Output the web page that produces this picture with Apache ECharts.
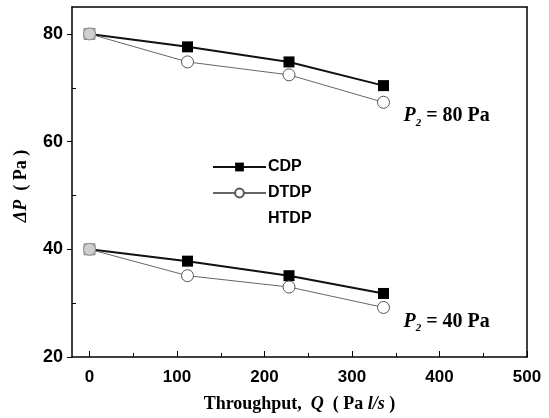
<!DOCTYPE html>
<html lang="en">
<head>
    <meta charset="UTF-8"/>
    <script src="https://cdn.jsdelivr.net/npm/echarts@6/dist/echarts.min.js"></script>
</head>
<body style="margin:0;background:#fff">
<div id="main" style="width: 549px;height:418px;"></div>
<script type="text/javascript">
    // throughput Q (Pa l/s)
    var throughput = [0, 112, 228, 336];
    // P2 = 80 Pa
    var cdp80 = [80, 77.6, 74.8, 70.4];
    var dtdp80 = [80, 74.8, 72.4, 67.3];
    // P2 = 40 Pa
    var cdp40 = [40, 37.8, 35.1, 31.8];
    var dtdp40 = [40, 35.1, 33.0, 29.2];
    var xTicks = [0, 100, 200, 300, 400, 500];
    var yTicks = [20, 40, 60, 80];
    var yMinor = [30, 50, 70];
    var xMinor = [50, 150, 250, 350, 450];

    function pairs(ys) {
        return ys.map(function (y, i) {
            var p = {value: [throughput[i], y]};
            if (i === 0) p.itemStyle = {color: '#cfcfcf', borderColor: '#888'};
            return p;
        });
    }

    var myChart = echarts.init(document.getElementById('main'));
    var sans = 'Liberation Sans';
    var serif = 'Liberation Serif';

    var squareStyle = {
        type: 'line', symbol: 'rect', symbolSize: 11,
        itemStyle: {color: '#000'},
        lineStyle: {color: '#111', width: 2},
        z: 3
    };
    var circleStyle = {
        type: 'line', symbol: 'circle', symbolSize: 12,
        itemStyle: {color: '#fff', borderColor: '#555', borderWidth: 1},
        lineStyle: {color: '#666', width: 1},
        z: 4
    };

    var options = {
        animation: false,
        grid: {left: 72, right: 22, top: 7, bottom: 59},
        legend: {
            left: 207, top: 154, orient: 'vertical',
            itemWidth: 53, itemHeight: 11, itemGap: 10,
            textStyle: {fontFamily: sans, fontWeight: 'bold', fontSize: 16, color: '#000', padding: [0, 0, 0, -3]},
            data: ['CDP', 'DTDP', {name: 'HTDP', itemStyle: {opacity: 0}, lineStyle: {opacity: 0}}]
        },
        xAxis: [{
            type: 'value', min: -20, max: 500, interval: 100,
            name: '{t|Throughput,  }{i|Q}{t|  ( Pa }{i|l/s}{t| )}',
            nameLocation: 'middle', nameGap: 38,
            nameTextStyle: {
                rich: {
                    t: {fontFamily: serif, fontWeight: 'bold', fontSize: 18, color: '#000'},
                    i: {fontFamily: serif, fontWeight: 'bold', fontStyle: 'italic', fontSize: 18, color: '#000'}
                }
            },
            axisLine: {onZero: false, lineStyle: {color: '#000', width: 1.5}},
            axisTick: {inside: true, length: 6, lineStyle: {color: '#000'}, customValues: xTicks},
            axisLabel: {customValues: xTicks, margin: 12, fontFamily: sans, fontWeight: 'bold', fontSize: 17, color: '#000'},
            splitLine: {show: false}
        }, {
            type: 'value', min: -20, max: 500, position: 'bottom',
            axisLine: {show: false, onZero: false},
            axisTick: {inside: true, length: 4, lineStyle: {color: '#000'}, customValues: xMinor},
            axisLabel: {show: false}, splitLine: {show: false}
        }, {
            type: 'value', min: -20, max: 500, position: 'top',
            axisLine: {onZero: false, lineStyle: {color: '#000', width: 1.5}},
            axisTick: {show: false}, axisLabel: {show: false}, splitLine: {show: false}
        }],
        yAxis: [{
            type: 'value', min: 20, max: 85, interval: 20,
            name: '{i|ΔP}{t|  ( Pa )}',
            nameLocation: 'middle', nameGap: 42, nameRotate: 90,
            nameTextStyle: {
                padding: [0, 0, 0, -8],
                rich: {
                    t: {fontFamily: serif, fontWeight: 'bold', fontSize: 18, color: '#000'},
                    i: {fontFamily: serif, fontWeight: 'bold', fontStyle: 'italic', fontSize: 18, color: '#000'}
                }
            },
            axisLine: {onZero: false, lineStyle: {color: '#000', width: 1.5}},
            axisTick: {length: 5, lineStyle: {color: '#000'}, customValues: yTicks},
            axisLabel: {customValues: yTicks, margin: 9, fontFamily: sans, fontWeight: 'bold', fontSize: 18, color: '#000'},
            splitLine: {show: false}
        }, {
            type: 'value', min: 20, max: 85, position: 'left',
            axisLine: {show: false, onZero: false},
            axisTick: {inside: true, length: 4, lineStyle: {color: '#000'}, customValues: yMinor},
            axisLabel: {show: false}, splitLine: {show: false}
        }, {
            type: 'value', min: 20, max: 85, position: 'right',
            axisLine: {onZero: false, lineStyle: {color: '#000', width: 1.5}},
            axisTick: {show: false}, axisLabel: {show: false}, splitLine: {show: false}
        }],
        series: [
            Object.assign({name: 'CDP', data: pairs(cdp80)}, squareStyle),
            Object.assign({name: 'DTDP', data: pairs(dtdp80)}, circleStyle),
            Object.assign({name: 'CDP', data: pairs(cdp40)}, squareStyle),
            Object.assign({name: 'DTDP', data: pairs(dtdp40)}, circleStyle),
            {name: 'HTDP', type: 'line', data: [], symbol: 'none', lineStyle: {opacity: 0}, itemStyle: {opacity: 0}}
        ]
    };

    myChart.setOption(options);

    // P2 annotations, just below and right of the last points
    function note(val, yv) {
        var p = myChart.convertToPixel({xAxisIndex: 0, yAxisIndex: 0}, [throughput[3], yv]);
        return {
            type: 'text', left: p[0] + 20, top: p[1] + 4, z: 10,
            style: {
                text: '{p|P}{s|2}{t| = ' + val + ' Pa}',
                rich: {
                    p: {fontFamily: serif, fontWeight: 'bold', fontStyle: 'italic', fontSize: 20, fill: '#000'},
                    s: {fontFamily: serif, fontWeight: 'bold', fontStyle: 'italic', fontSize: 11, fill: '#000', padding: [13, 0, 0, 0]},
                    t: {fontFamily: serif, fontWeight: 'bold', fontSize: 20, fill: '#000'}
                }
            }
        };
    }
    myChart.setOption({graphic: [note(80, dtdp80[3]), note(40, dtdp40[3])]});
</script>
</body>
</html>
